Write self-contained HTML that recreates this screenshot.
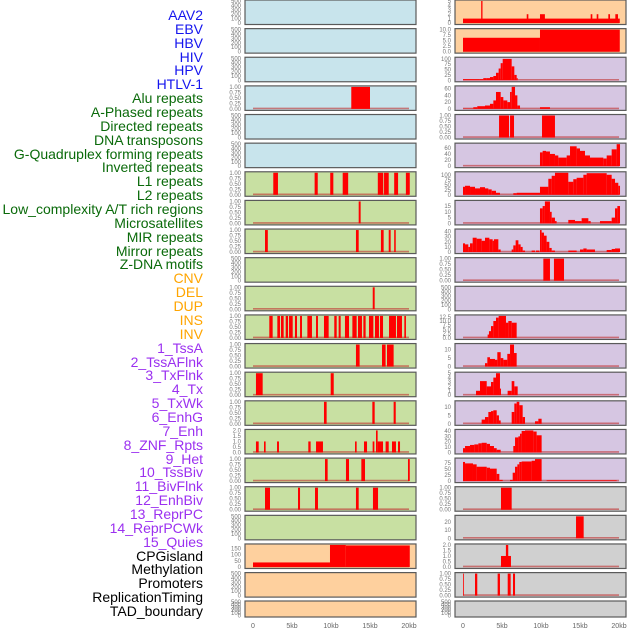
<!DOCTYPE html>
<html><head><meta charset="utf-8">
<style>
html,body{margin:0;padding:0;background:#fff;}
#wrap{position:relative;width:630px;height:630px;overflow:hidden;}
.lbl{position:absolute;right:427px;font-family:"Liberation Sans",sans-serif;font-size:14px;line-height:14px;white-space:nowrap;text-align:right;}
svg{position:absolute;left:0;top:0;}
</style></head>
<body>
<div id="wrap">
<svg id="svg" width="630" height="630"></svg>
</div>
<script>
// ---- track labels ----
const labels = ["AAV2","EBV","HBV","HIV","HPV","HTLV-1","Alu repeats","A-Phased repeats","Directed repeats","DNA transposons","G-Quadruplex forming repeats","Inverted repeats","L1 repeats","L2 repeats","Low_complexity A/T rich regions","Microsatellites","MIR repeats","Mirror repeats","Z-DNA motifs","CNV","DEL","DUP","INS","INV","1_TssA","2_TssAFlnk","3_TxFlnk","4_Tx","5_TxWk","6_EnhG","7_Enh","8_ZNF_Rpts","9_Het","10_TssBiv","11_BivFlnk","12_EnhBiv","13_ReprPC","14_ReprPCWk","15_Quies","CPGisland","Methylation","Promoters","ReplicationTiming","TAD_boundary"];
const labelGroups = [6,13,5,15,5];
const groupColors = ["#1515ee","#0a6a0a","#ffa500","#9b30f0","#000000"];

// ---- x axis ----
const xTicks = [0,5,10,15,20];
const xTickLabels = ["0","5kb","10kb","15kb","20kb"];

// ---- tick label sets ----
const T500 = [0,100,200,300,400,500];
const T1 = [0,0.25,0.5,0.75,1];
const T2 = [0,0.5,1,1.5,2];

// ---- left column data: [startKb, endKb, value] ----
const L3 = [[12.6,15.0,1]];
const L6 = [[2.6,3.2,1],[7.9,8.3,1],[9.9,10.3,1],[11.5,12.2,1],[16.0,16.7,1],[16.8,17.4,1],[18.1,18.6,1],[19.6,20.1,1]];
const L7 = [[13.55,13.8,1]];
const L8 = [[1.54,1.9,1],[13.2,13.55,1],[16.4,16.75,1],[17.4,17.65,1],[18.1,18.3,1]];
const L10 = [[15.35,15.6,1]];
const L11 = [[2.09,2.52,1],[3.12,3.46,1],[3.59,3.93,1],[4.19,4.49,1],[4.62,5.09,1],[5.38,5.64,1],[6.03,6.28,1],[6.97,7.56,1],[8.08,8.33,1],[9.10,9.70,1],[10.42,10.73,1],[10.98,11.24,1],[11.79,12.31,1],[12.74,13.29,1],[13.46,13.97,1],[14.15,14.44,1],[14.87,15.43,1],[15.64,16.15,1],[16.28,16.67,1],[17.44,18.33,1],[18.46,19.10,1],[19.40,19.61,1]];
const L12 = [[13.2,13.67,1],[16.54,17.0,1],[17.18,18.03,1]];
const L13 = [[0.38,1.24,1],[9.96,10.35,1]];
const L14 = [[9.10,9.44,1],[15.3,15.6,1],[18.03,18.3,1]];
const L15 = [[0.38,0.73,1],[1.41,1.62,1],[3.08,3.33,1],[7.09,7.39,1],[8.08,8.97,1],[13.08,13.29,1],[14.23,14.62,1],[15.34,15.56,1],[15.77,15.98,2],[15.98,16.67,1],[17.0,17.4,1],[17.82,18.33,1],[18.59,18.85,1]];
const L16 = [[9.23,9.57,1],[11.92,12.31,1],[13.89,14.36,1],[19.87,20.1,1]];
const L17 = [[1.54,2.18,1],[5.77,6.03,1],[7.95,8.33,1],[13.2,13.55,1],[15.38,16.03,1]];
const L19 = [[0,9.87,37],[9.87,11.9,180],[11.9,20.1,176]];

// ---- right column data ----
const R0 = [[0,20.1,1],[2.33,2.5,5],[8.17,8.38,2],[9.87,10.5,2],[16.37,16.58,2],[17.14,17.35,2],[18.63,18.85,2],[19.53,19.87,2]];
const R1 = [[0,9.87,6.3],[9.87,20.1,10]];
const R2 = [[0,2.09,5],[2.09,2.6,5],[2.6,3.04,10],[3.04,3.46,10],[3.46,3.89,15],[3.89,4.23,20],[4.23,4.57,35],[4.57,4.83,55],[4.83,5.09,80],[5.09,6.24,100],[6.24,6.58,65],[6.58,6.88,25],[6.88,7.01,10]];
const R3 = [[0,1.32,1],[1.32,1.83,5],[1.83,2.82,8],[2.82,3.46,10],[3.46,3.89,15],[3.89,4.23,25],[4.23,4.83,50],[4.83,5.17,35],[5.17,5.68,25],[5.68,6.03,20],[6.03,6.24,50],[6.24,6.67,65],[6.67,6.97,40],[6.97,7.31,10],[9.87,11.15,5]];
const R4 = [[4.62,5.9,1],[6.03,6.54,1],[10.13,11.79,1]];
const R5 = [[9.87,10.21,45],[10.21,10.64,50],[10.64,11.15,48],[11.15,11.79,40],[11.79,12.22,35],[12.22,13.29,28],[13.29,13.72,35],[13.72,14.57,65],[14.57,15.0,58],[15.0,15.64,50],[15.64,16.28,35],[16.28,17.99,28],[17.99,18.42,25],[18.42,19.06,35],[19.06,19.7,55],[19.7,20.13,72]];
const R6 = [[0,0.26,40],[0.26,0.9,45],[0.9,1.54,40],[1.54,2.18,32],[2.18,2.82,38],[2.82,3.25,32],[3.25,3.68,27],[3.68,4.23,20],[4.23,4.74,10],[6.45,6.88,8],[6.88,9.87,10],[9.87,10.94,40],[10.94,11.37,80],[11.37,11.79,95],[11.79,13.5,110],[13.5,14.14,65],[14.14,14.57,78],[14.57,15.43,85],[15.43,15.85,100],[15.85,18.42,108],[18.42,19.06,100],[19.06,19.49,80],[19.49,19.91,60],[19.91,20.13,45]];
const R7 = [[9.87,10.21,13],[10.21,10.5,15],[10.5,11.15,19],[11.15,11.37,10],[11.37,11.79,5],[11.79,12.0,2],[13.5,14.36,3],[14.36,15.21,2],[15.21,16.07,4.5],[16.07,16.37,2],[17.56,19.06,2],[19.06,19.49,5],[19.49,19.79,13],[19.79,20.13,15]];
const R8 = [[0,0.26,17],[0.26,0.68,15],[0.68,0.9,10],[0.9,1.24,17],[1.24,1.75,28],[1.75,2.39,26],[2.39,2.82,22],[2.82,3.38,28],[3.38,3.8,25],[3.8,3.97,22],[3.97,4.53,25],[4.53,4.83,5],[6.24,6.45,5],[6.45,6.75,13],[6.75,7.1,23],[7.1,7.39,15],[7.39,7.65,10],[7.65,7.95,3],[8.8,9.23,3],[9.36,9.79,3],[9.87,10.08,43],[10.08,10.38,38],[10.38,10.72,32],[10.72,11.07,20],[11.07,11.37,8],[11.37,11.79,3],[13.5,14.57,3],[15.0,15.43,5],[15.43,15.85,7],[15.85,16.92,5],[18.42,19.06,4],[19.06,19.49,6],[19.49,20.13,7]];
const R9 = [[10.3,11.15,1],[11.66,12.95,1]];
const R11 = [[3.16,3.33,2],[3.33,3.59,4],[3.59,3.89,7],[3.89,4.23,10],[4.23,4.57,12],[4.57,5.51,13],[5.51,5.81,9],[5.81,6.24,10],[6.24,6.88,9]];
const R12 = [[2.82,3.12,2],[3.12,3.46,5.5],[3.46,4.1,4.5],[4.1,4.4,4],[4.4,4.83,8.5],[4.83,5.17,5],[5.17,5.68,4],[5.68,6.03,7.5],[6.03,6.54,13],[6.54,6.88,8]];
const R13 = [[1.67,2.18,1],[2.18,3.04,3.2],[3.04,3.59,2],[3.59,3.89,3],[3.89,4.23,4],[4.23,4.74,5],[4.74,4.87,1.5],[5.72,6.24,1],[6.24,6.58,3.2],[6.58,7.01,2]];
const R14 = [[2.39,2.82,2.5],[2.82,3.25,4],[3.25,3.59,7],[3.59,3.89,7.5],[3.89,4.32,8],[4.32,4.61,5],[4.61,4.83,2],[6.24,6.58,7],[6.58,6.88,12],[6.88,7.22,13],[7.22,7.65,11],[7.65,7.95,4],[9.23,9.66,1.5],[9.66,10.08,3]];
const R15 = [[0,0.26,8],[0.26,0.9,12],[0.9,1.45,14],[1.45,1.97,15],[1.97,2.39,17],[2.39,3.04,18],[3.04,3.46,16],[3.46,3.97,12],[3.97,4.32,8],[4.32,4.83,5],[6.45,6.67,12],[6.67,7.1,28],[7.1,7.31,30],[7.31,7.52,35],[7.52,7.95,40],[7.95,9.02,41],[9.02,9.44,39],[9.44,10.08,32]];
const R16 = [[0,0.26,80],[0.26,1.28,74],[1.28,1.75,70],[1.75,3.04,60],[3.04,3.46,56],[3.46,4.32,52],[4.32,4.66,30],[4.66,5.09,5],[6.03,6.37,5],[6.37,6.67,35],[6.67,6.97,60],[6.97,7.22,70],[7.22,7.52,80],[7.52,8.8,82],[8.8,9.23,85],[9.23,10.08,92],[10.72,19.7,3]];
const R17 = [[4.87,6.24,1]];
const R18 = [[14.49,15.47,27]];
const R19 = [[4.87,6.15,1],[5.5,5.8,2]];
const R20 = [[0,0.1,1],[1.54,1.83,1],[4.44,4.74,1],[5.73,6.11,1],[6.41,6.67,1]];

const leftData = [[],[],[],L3,[],[],L6,L7,L8,[],L10,L11,L12,L13,L14,L15,L16,L17,[],L19,[],[]];
const rightData = [R0,R1,R2,R3,R4,R5,R6,R7,R8,R9,[],R11,R12,R13,R14,R15,R16,R17,R18,R19,R20,[]];
const leftMax = [500,500,500,1,500,500,1,1,1,500,1,1,1,1,1,2,1,1,500,180,500,500];
const rightMax = [5,10,103,65,1,72,110,19,43,1,500,13,13,5,13,41,92,1,27,2,1,500];
const leftTicks = [T500,T500,T500,T1,T500,T500,T1,T1,T1,T500,T1,T1,T1,T1,T1,T2,T1,T1,T500,[0,50,100,150],T500,T500];
const rightTicks = [[0,1,2,3,4,5],[0,2.5,5,7.5,10],[0,25,50,75,100],[0,20,40,60],T1,[0,20,40,60],[0,25,50,75,100],[0,5,10,15],[0,10,20,30,40],T1,T500,[0,2.5,5,7.5,10,12.5],[0,5,10],[0,1,2,3,4,5],[0,5,10],[0,10,20,30,40],[0,25,50,75],T1,[0,10,20],T2,T1,T500];
const leftBg = ["#c8e4ec","#c8e4ec","#c8e4ec","#c8e4ec","#c8e4ec","#c8e4ec","#c8e0a2","#c8e0a2","#c8e0a2","#c8e0a2","#c8e0a2","#c8e0a2","#c8e0a2","#c8e0a2","#c8e0a2","#c8e0a2","#c8e0a2","#c8e0a2","#c8e0a2","#fed09e","#fed09e","#fed09e"];
const rightBg = ["#fed09e","#fed09e","#d6c6e2","#d6c6e2","#d6c6e2","#d6c6e2","#d6c6e2","#d6c6e2","#d6c6e2","#d6c6e2","#d6c6e2","#d6c6e2","#d6c6e2","#d6c6e2","#d6c6e2","#d6c6e2","#d6c6e2","#d0d0d0","#d0d0d0","#d0d0d0","#d0d0d0","#d0d0d0"];

// ---- render ----
const NS = "http://www.w3.org/2000/svg";
const svg = document.getElementById("svg");
const wrap = document.getElementById("wrap");

// labels
let li = 0;
labelGroups.forEach((n, g) => {
  for (let k = 0; k < n; k++) {
    const d = document.createElement("div");
    d.className = "lbl";
    d.style.top = (8 + li * 13.86) + "px";
    d.style.color = groupColors[g];
    d.textContent = labels[li];
    
    
    wrap.appendChild(d);
    li++;
  }
});

function mk(tag, attrs) {
  const e = document.createElementNS(NS, tag);
  for (const k in attrs) e.setAttribute(k, attrs[k]);
  return e;
}
function rowTop(i) { return i < 21 ? i * 28.63 : 601; }
function rowH(i) { return i < 21 ? 24.5 : 16; }
function fmt(v, ticks) {
  const dec = ticks.some(t => Math.abs(t - Math.round(t)) > 1e-9 && Math.abs(t*2 - Math.round(t*2)) > 1e-9) ? 2 :
              ticks.some(t => Math.abs(t - Math.round(t)) > 1e-9) ? 1 : 0;
  return v.toFixed(dec);
}

function drawPanel(col, i, data, ymax, ticks, bg) {
  const px0 = col === 0 ? 245 : 455;
  const pw = 171;
  const dx0 = px0 + 8, dx1 = px0 + 164;
  const top = rowTop(i), h = rowH(i);
  const xs = kb => dx0 + (kb / 20) * (dx1 - dx0);
  const yb = top + h - 1.5, yt = top + 1;
  const ys = v => yb - (Math.min(v, ymax) / ymax) * (yb - yt);
  const g = mk("g", {});
  
  
  const r = mk("rect", {x: px0, y: top, width: pw, height: h, fill: bg, stroke: "#5a5a5a", "stroke-width": 1.2});
  
  
  g.appendChild(r);
  if (data.length) {
    const bl = mk("line", {x1: xs(0), x2: xs(20), y1: yb - 0.5, y2: yb - 0.5, stroke: "#c03030", "stroke-opacity": 0.6, "stroke-width": 1.6});
    
    
    g.appendChild(bl);
  }
  data.forEach(s => {
    const y = ys(s[2]);
    const b = mk("rect", {x: xs(s[0]), y: y, width: Math.max(0.8, xs(s[1]) - xs(s[0])), height: yb - y, fill: "#ff0000"});
    
    
    g.appendChild(b);
  });
  ticks.forEach(t => {
    const tx = mk("text", {x: px0 - 4, y: ys(t) + 2, "text-anchor": "end", "font-size": 6, fill: "#777", "font-family": "Liberation Sans, sans-serif"});
    tx.textContent = fmt(t, ticks);
    
    
    g.appendChild(tx);
  });
  svg.appendChild(g);
}

for (let i = 0; i < 22; i++) {
  drawPanel(0, i, leftData[i], leftMax[i], leftTicks[i], leftBg[i]);
  drawPanel(1, i, rightData[i], rightMax[i], rightTicks[i], rightBg[i]);
}

[245, 455].forEach(px0 => {
  xTicks.forEach((t, k) => {
    const x = px0 + 8 + (t / 20) * 156;
    const tx = mk("text", {x: x, y: 628, "text-anchor": "middle", "font-size": 7, fill: "#666", "font-family": "Liberation Sans, sans-serif"});
    tx.textContent = xTickLabels[k];
    
    
    svg.appendChild(tx);
  });
});
</script>
</body></html>
